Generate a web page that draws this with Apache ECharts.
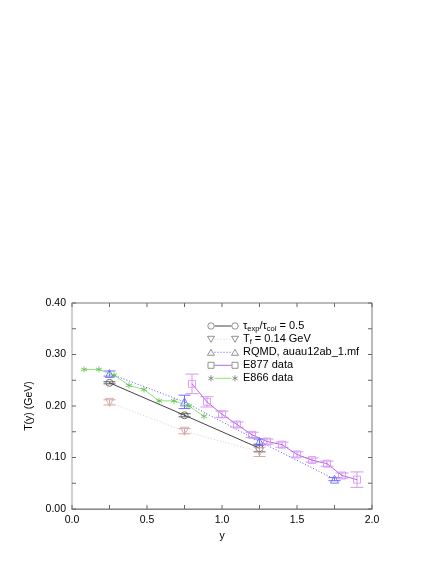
<!DOCTYPE html>
<html><head><meta charset="utf-8">
<script src="https://cdn.jsdelivr.net/npm/echarts@6/dist/echarts.min.js"></script>
<style>html,body{margin:0;padding:0;background:#fff}#c{width:436px;height:564px}</style>
</head><body><div id="c"></div>
<script>
// ---- data ----
var tauX = [0.25, 0.75, 1.25];
var tauY = [0.245, 0.182, 0.118];
var tauErr = [0.002, 0.003, 0.007];

var tfX = [0.25, 0.75, 1.25];
var tfY = [0.207, 0.151, 0.111];
var tfErr = [0.005, 0.005, 0.009];

var rqmdX = [0.25, 0.75, 1.25, 1.75];
var rqmdY = [0.263, 0.208, 0.131, 0.058];
var rqmdErr = [0.005, 0.013, 0.005, 0.003];

var e877X = [0.8, 0.9, 1.0, 1.1, 1.2, 1.3, 1.4, 1.5, 1.6, 1.7, 1.8, 1.9];
var e877Y = [0.243, 0.208, 0.184, 0.164, 0.144, 0.131, 0.125, 0.106, 0.095, 0.088, 0.065, 0.057];
var e877Err = [0.019, 0.010, 0.006, 0.005, 0.005, 0.005, 0.005, 0.005, 0.004, 0.005, 0.005, 0.015];

var e866X = [0.08, 0.18, 0.28, 0.38, 0.48, 0.58, 0.68, 0.78, 0.88];
var e866Y = [0.271, 0.271, 0.260, 0.240, 0.232, 0.210, 0.210, 0.200, 0.180];

var xTicks = [0.0, 0.5, 1.0, 1.5, 2.0];
var yTicks = [0.0, 0.1, 0.2, 0.3, 0.4];
var xTickMarks = [0.0, 0.25, 0.5, 0.75, 1.0, 1.25, 1.5, 1.75, 2.0];
var yTickMarks = [0.0, 0.05, 0.1, 0.15, 0.2, 0.25, 0.3, 0.35, 0.4];

var legendNames = ['tau', 'Tf', 'RQMD, auau12ab_1.mf', 'E877 data', 'E866 data'];

// ---- helpers ----
function pts(xs, ys) { return xs.map(function (x, i) { return [x, ys[i]]; }); }
function errPts(xs, ys, es) { return xs.map(function (x, i) { return [x, ys[i], es[i]]; }); }
function errSeries(data, color, half) {
  return {
    type: 'custom', data: data, z: 3, silent: true,
    renderItem: function (params, api) {
      var x = api.value(0), y = api.value(1), e = api.value(2);
      var lo = api.coord([x, y - e]), hi = api.coord([x, y + e]);
      var st = { stroke: color, lineWidth: 1 };
      return { type: 'group', children: [
        { type: 'line', shape: { x1: lo[0], y1: lo[1], x2: hi[0], y2: hi[1] }, style: st },
        { type: 'line', shape: { x1: lo[0] - half, y1: lo[1], x2: lo[0] + half, y2: lo[1] }, style: st },
        { type: 'line', shape: { x1: hi[0] - half, y1: hi[1], x2: hi[0] + half, y2: hi[1] }, style: st }
      ]};
    }
  };
}
var xMin = xTicks[0], xMax = xTicks[xTicks.length - 1];
var yMin = yTicks[0], yMax = yTicks[yTicks.length - 1];
var TL = 4, tickColor = '#666';
function tickSeries(vals, isX) {
  return {
    type: 'custom', silent: true, z: 5, clip: false,
    data: vals.map(function (v) { return isX ? [v, yMin] : [xMin, v]; }),
    renderItem: function (params, api) {
      var st = { stroke: tickColor, lineWidth: 1 };
      if (isX) {
        var v = api.value(0);
        var b = api.coord([v, yMin]), t = api.coord([v, yMax]);
        return { type: 'group', children: [
          { type: 'line', shape: { x1: b[0], y1: b[1], x2: b[0], y2: b[1] - TL }, style: st },
          { type: 'line', shape: { x1: t[0], y1: t[1], x2: t[0], y2: t[1] + TL }, style: st }
        ]};
      }
      var w = api.value(1);
      var l = api.coord([xMin, w]), r = api.coord([xMax, w]);
      return { type: 'group', children: [
        { type: 'line', shape: { x1: l[0], y1: l[1], x2: l[0] + TL, y2: l[1] }, style: st },
        { type: 'line', shape: { x1: r[0], y1: r[1], x2: r[0] - TL, y2: r[1] }, style: st }
      ]};
    }
  };
}
var starPath = 'path://M5,0 L5,10 M0.7,2.5 L9.3,7.5 M0.7,7.5 L9.3,2.5';

var C = {
  tau: '#444444', tauM: '#606060',
  tf: '#ecc8c8', tfM: '#d4a8a8',
  rq: '#5555ff', rqM: '#6f6fff',
  e877: '#b468e4', e877M: '#d898f0',
  e866: '#8ee476', e866M: '#5cbc4c'
};

var chart = echarts.init(document.getElementById('c'), null, { renderer: 'canvas' });

var axisFont = { fontFamily: 'Liberation Sans, Arial, sans-serif', fontSize: 10.5, color: '#000' };

// legend graphic
var lgX1 = 211, lgX2 = 235, lgText = 243, lgY = [326, 339.3, 352.3, 365.3, 378.3];
function lgSym(kind, x, y, color) {
  if (kind === 'circle') return { type: 'circle', shape: { cx: x, cy: y, r: 3.2 }, style: { fill: '#fff', stroke: color, lineWidth: 0.8 } };
  if (kind === 'down') return { type: 'polygon', shape: { points: [[x - 3.5, y - 3], [x + 3.5, y - 3], [x, y + 3]] }, style: { fill: '#fff', stroke: color, lineWidth: 0.8 } };
  if (kind === 'up') return { type: 'polygon', shape: { points: [[x - 3.5, y + 3], [x + 3.5, y + 3], [x, y - 3]] }, style: { fill: '#fff', stroke: color, lineWidth: 0.8 } };
  if (kind === 'rect') return { type: 'rect', shape: { x: x - 3, y: y - 3, width: 6, height: 6 }, style: { fill: '#fff', stroke: color, lineWidth: 0.8 } };
  return { type: 'group', children: [
    { type: 'line', shape: { x1: x, y1: y - 3, x2: x, y2: y + 3 }, style: { stroke: color, lineWidth: 0.8 } },
    { type: 'line', shape: { x1: x - 2.6, y1: y - 1.5, x2: x + 2.6, y2: y + 1.5 }, style: { stroke: color, lineWidth: 0.8 } },
    { type: 'line', shape: { x1: x - 2.6, y1: y + 1.5, x2: x + 2.6, y2: y - 1.5 }, style: { stroke: color, lineWidth: 0.8 } }
  ]};
}
var lgDefs = [
  { sym: 'circle', line: C.tau, m: '#777', dash: null },
  { sym: 'down', line: C.tf, m: '#777', dash: [1, 2] },
  { sym: 'up', line: C.rq, m: '#777', dash: [1, 2] },
  { sym: 'rect', line: C.e877, m: '#777', dash: null },
  { sym: 'star', line: C.e866, m: '#777', dash: null }
];
var graphics = [];
lgDefs.forEach(function (d, i) {
  var y = lgY[i];
  graphics.push({ type: 'line', shape: { x1: lgX1 + 3.5, y1: y, x2: lgX2 - 3.5, y2: y }, style: { stroke: d.line, lineWidth: 1, lineDash: d.dash } });
  graphics.push(lgSym(d.sym, lgX1, y, d.m));
  graphics.push(lgSym(d.sym, lgX2, y, d.m));
});
var tFont = 'Liberation Sans, Arial, sans-serif';
graphics.push({ type: 'text', x: lgText, y: lgY[0], style: {
  text: '{m|τ}{s|exp}{m|/τ}{s|col}{m| = 0.5}', verticalAlign: 'middle',
  rich: { m: { fontSize: 11, fontFamily: tFont, fill: '#000' }, s: { fontSize: 7.5, fontFamily: tFont, fill: '#000', padding: [5, 0, 0, 0] } } } });
graphics.push({ type: 'text', x: lgText, y: lgY[1], style: {
  text: '{m|T}{s|f}{m| = 0.14 GeV}', verticalAlign: 'middle',
  rich: { m: { fontSize: 11, fontFamily: tFont, fill: '#000' }, s: { fontSize: 7.5, fontFamily: tFont, fill: '#000', padding: [5, 0, 0, 0] } } } });
[2, 3, 4].forEach(function (i) {
  graphics.push({ type: 'text', x: lgText, y: lgY[i], style: { text: legendNames[i], fontSize: 11, fontFamily: tFont, fill: '#000', verticalAlign: 'middle' } });
});

var gridPos = { left: 72, right: 64, top: 303, bottom: 55 };

function markStyle(color) { return { color: 'rgba(255,255,255,0)', borderColor: color, borderWidth: 0.9 }; }

var option = {
  backgroundColor: '#fff',
  animation: false,
  grid: Object.assign({ show: true, borderColor: '#777', borderWidth: 1, backgroundColor: 'transparent' }, gridPos),
  xAxis: {
    type: 'value', min: xMin, max: xMax, interval: 0.5,
    name: 'y', nameLocation: 'middle', nameGap: 22, nameTextStyle: axisFont,
    axisLine: { show: true, lineStyle: { color: '#888' } },
    axisTick: { show: false },
    axisLabel: Object.assign({ margin: 6, formatter: function (v) { return v.toFixed(1); } }, axisFont),
    splitLine: { show: false }
  },
  yAxis: {
    type: 'value', min: yMin, max: yMax, interval: 0.1,
    name: 'T(y) (GeV)', nameLocation: 'middle', nameGap: 21, nameRotate: 90, nameTextStyle: axisFont,
    axisLine: { show: true, lineStyle: { color: '#d0d0d0', width: 2 } },
    axisTick: { show: false },
    axisLabel: Object.assign({ margin: 6, formatter: function (v) { return v.toFixed(2); } }, axisFont),
    splitLine: { show: false }
  },
  graphic: graphics,
  series: [
    tickSeries(xTickMarks, true),
    tickSeries(yTickMarks, false),
    { type: 'line', name: 'tau', data: pts(tauX, tauY), symbol: 'circle', symbolSize: 7,
      lineStyle: { color: C.tau, width: 1 }, itemStyle: markStyle(C.tauM), z: 4 },
    { type: 'line', name: 'Tf', data: pts(tfX, tfY), symbol: 'triangle', symbolRotate: 180, symbolSize: 8,
      lineStyle: { color: C.tf, width: 1, type: [1, 2] }, itemStyle: markStyle(C.tfM), z: 4 },
    { type: 'line', name: 'RQMD', data: pts(rqmdX, rqmdY), symbol: 'triangle', symbolSize: 8,
      lineStyle: { color: C.rq, width: 1, type: [1, 2] }, itemStyle: markStyle(C.rqM), z: 4 },
    { type: 'line', name: 'E877', data: pts(e877X, e877Y), symbol: 'rect', symbolSize: 7,
      lineStyle: { color: C.e877, width: 1 }, itemStyle: markStyle(C.e877M), z: 4 },
    { type: 'line', name: 'E866', data: pts(e866X, e866Y), symbol: starPath, symbolSize: 6,
      lineStyle: { color: C.e866, width: 1 }, itemStyle: { color: 'transparent', borderColor: C.e866M, borderWidth: 0.8 }, z: 4 },
    errSeries(errPts(tauX, tauY, tauErr), C.tauM, 6),
    errSeries(errPts(tfX, tfY, tfErr), C.tfM, 6),
    errSeries(errPts(rqmdX, rqmdY, rqmdErr), C.rqM, 6),
    errSeries(errPts(e877X, e877Y, e877Err), C.e877M, 6.5)
  ]
};
chart.setOption(option);
</script>
</body></html>
